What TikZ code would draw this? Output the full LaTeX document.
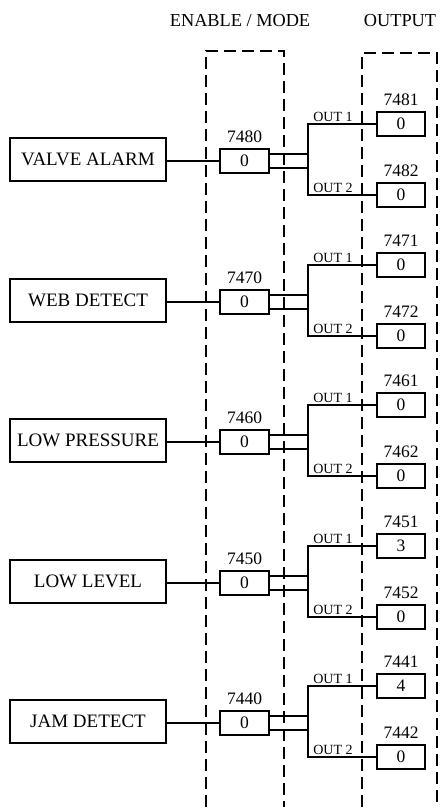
\documentclass[tikz,border=0pt]{standalone}
\usepackage{fontspec}
\setmainfont{Liberation Serif}
\usetikzlibrary{positioning}
\begin{document}
\begin{tikzpicture}[x=1pt,y=-1pt,
  big/.style={font=\fontsize{19}{22}\selectfont},
  num/.style={font=\fontsize{17.5}{20}\selectfont},
  head/.style={font=\fontsize{18.3}{21}\selectfont},
  small/.style={font=\fontsize{14}{16}\selectfont},
  inbox/.style={draw,line width=2pt,big,minimum width=156pt,minimum height=43pt,inner sep=0pt},
  valbox/.style={draw,line width=2pt,num,minimum width=49pt,minimum height=24pt,inner sep=0pt},
  numlab/.style={num,inner sep=0pt},
  outlab/.style={small,inner sep=0pt,anchor=south},
  conn/.style={line width=2pt},
  dashbox/.style={draw,line width=2pt,dash pattern=on 12pt off 6pt}]
\useasboundingbox (0,0) rectangle (440,809);
% headers
\node[head,inner sep=0pt] (h1) at (240,21) {ENABLE / MODE};
\node[head,inner sep=0pt] (h2) at (400,21) {OUTPUT};
% dashed boxes
\draw[dashbox] (206,807) -- (206,51) -- (284,51) -- (284,807);
\draw[dashbox] (362,807) -- (362,53) -- (437,53) -- (437,807);
\foreach \i/\name/\m/\oa/\ob/\va/\vb in {
  0/VALVE ALARM/7480/7481/7482/0/0,
  1/WEB DETECT/7470/7471/7472/0/0,
  2/LOW PRESSURE/7460/7461/7462/0/0,
  3/LOW LEVEL/7450/7451/7452/3/0,
  4/JAM DETECT/7440/7441/7442/4/0}{
  \pgfmathsetmacro{\c}{round(161+140.5*\i)}
  \node[inbox] (in\i) at (88,\c-1.5) {\name};
  \node[valbox] (m\i) at (244.5,\c) {0};
  \node[numlab,above=5pt of m\i] (ml\i) {\m};
  \node[valbox,minimum width=48pt] (oa\i) at (401,\c-37) {\va};
  \node[valbox,minimum width=48pt] (ob\i) at (401,\c+34) {\vb};
  \node[numlab,above=5pt of oa\i] (oal\i) {\oa};
  \node[numlab,above=5pt of ob\i] (obl\i) {\ob};
  \draw[conn] (in\i.east |- m\i.west) -- (m\i.west);
  \draw[conn] ([yshift=-7pt]m\i.east) -- ++(38,0) |- (oa\i.west);
  \draw[conn] ([yshift=7pt]m\i.east) -- ++(38,0) |- (ob\i.west);
  \node[outlab] (t1\i) at (333,\c-37-2) {OUT 1};
  \node[outlab] (t2\i) at (333,\c+34-2) {OUT 2};
}
\end{tikzpicture}
\end{document}
